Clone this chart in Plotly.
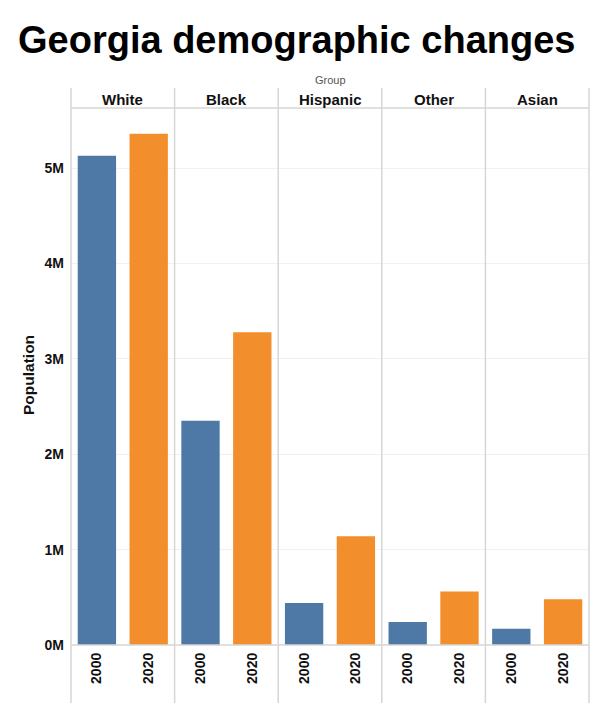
import plotly.graph_objects as go
from plotly.subplots import make_subplots

groups = ["White", "Black", "Hispanic", "Other", "Asian"]
years = ["2000", "2020"]
pop_2000 = [5130000, 2350000, 440000, 240000, 170000]
pop_2020 = [5360000, 3280000, 1140000, 560000, 480000]
y_tick_vals = [0, 1000000, 2000000, 3000000, 4000000, 5000000]
y_tick_text = ["0M", "1M", "2M", "3M", "4M", "5M"]
colors = ["#4e79a7", "#f28e2b"]

OFF = 8  # page body margin
W, H = 592, 706
L, T = 71 - OFF, 108 - OFF
R = W - (589 - OFF)
B = H - (645 - OFF)
pw = W - L - R
ph = H - T - B

def px_x(px):
    return (px - OFF - L) / pw

def px_y(py):
    return (H - B - (py - OFF)) / ph

FONT = "Liberation Sans, Arial, sans-serif"

fig = make_subplots(rows=1, cols=5, shared_yaxes=True, horizontal_spacing=0)

for i, g in enumerate(groups):
    fig.add_trace(
        go.Bar(x=years, y=[pop_2000[i], pop_2020[i]], marker=dict(color=colors, line=dict(width=0)),
               showlegend=False),
        row=1, col=i + 1)
    fig.update_xaxes(row=1, col=i + 1, type="category", tickangle=-90,
                     tickfont=dict(family=FONT, size=14, color="#111", weight="bold"),
                     showgrid=False, showline=False, zeroline=False, ticks="", ticklabelstandoff=4)

fig.update_yaxes(range=[0, 5630000], tickvals=y_tick_vals, ticktext=y_tick_text,
                 showgrid=True, gridcolor="#f1f1f1", gridwidth=1, zeroline=False,
                 showline=False, ticks="", ticklabelstandoff=6)
fig.update_yaxes(row=1, col=1, tickfont=dict(family=FONT, size=14, color="#111", weight="bold"))

shapes = []
for k in range(6):
    xp = k / 5
    shapes.append(dict(type="line", xref="paper", yref="paper", x0=xp, x1=xp,
                       y0=px_y(88), y1=px_y(703), line=dict(color="#d6d6d6", width=1.5), layer="above"))
shapes.append(dict(type="line", xref="paper", yref="paper", x0=0, x1=1, y0=1, y1=1,
                   line=dict(color="#d6d6d6", width=1.5)))
shapes.append(dict(type="line", xref="paper", yref="paper", x0=0, x1=1, y0=0, y1=0,
                   line=dict(color="#d6d6d6", width=1.5), layer="above"))

annotations = []
for k, g in enumerate(groups):
    annotations.append(dict(text=g, xref="paper", yref="paper", x=(k + 0.5) / 5, y=px_y(99),
                            showarrow=False, xanchor="center", yanchor="middle",
                            font=dict(family=FONT, size=15, color="#111", weight="bold")))
annotations.append(dict(text="Group", xref="paper", yref="paper", x=0.5, y=px_y(80),
                        showarrow=False, xanchor="center", yanchor="middle",
                        font=dict(family=FONT, size=11, color="#555555")))
annotations.append(dict(text="Population", xref="paper", yref="paper", x=px_x(28), y=px_y(375),
                        showarrow=False, xanchor="center", yanchor="middle", textangle=-90,
                        font=dict(family=FONT, size=15.5, color="#111", weight="bold")))
annotations.append(dict(text="Georgia demographic changes", xref="paper", yref="paper",
                        x=px_x(296), y=px_y(40), showarrow=False, xanchor="center", yanchor="middle",
                        font=dict(family=FONT, size=38, color="#000", weight="bold")))

fig.update_layout(width=W, height=H, margin=dict(l=L, r=R, t=T, b=B),
                  paper_bgcolor="white", plot_bgcolor="white",
                  bargap=0.26, shapes=shapes, annotations=annotations,
                  font=dict(family=FONT))

fig.write_html("out.html")
